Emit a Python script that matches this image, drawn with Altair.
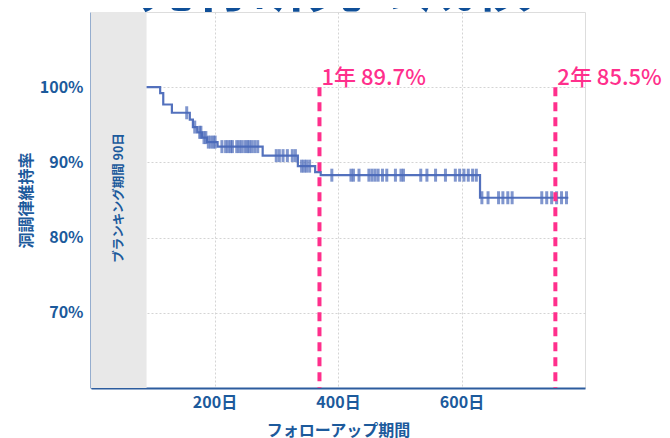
import altair as alt
import pandas as pd

# Kaplan-Meier steps (days, %)
km_days = [90, 112, 117, 131, 160, 165, 172, 180, 188, 205, 278, 335, 363, 372, 630, 773]
km_pct = [100, 99.2, 97.7, 96.6, 95.7, 94.7, 94.0, 93.3, 92.7, 92.1, 90.9, 89.5, 88.7, 88.3, 85.3, 85.3]

# censored observations (days, %)
cens_days = [155, 168, 176, 178, 183, 186, 190, 194, 198, 201,
             212, 218, 222, 226, 229, 236, 240, 244, 249, 253, 256, 260, 265, 270,
             300, 305, 311, 318, 326, 331,
             341, 345, 349, 354,
             390, 421, 425, 434, 450, 455, 460, 465, 472, 479, 493, 502, 506, 534, 544, 558, 574,
             590, 597, 604, 611, 618, 624,
             633, 643, 660, 667, 675, 682, 730, 738, 746, 754, 762, 770]
cens_pct = [96.6, 94.7, 94.0, 94.0, 93.3, 93.3, 92.7, 92.7, 92.7, 92.7] + [92.1] * 14 + [90.9] * 6 + [89.5] * 4 + [88.3] * 23 + [85.3] * 12

marker_days = [370, 752]
marker_labels = ["1年 89.7%", "2年 85.5%"]

blank_start, blank_end = [0], [90]
blank_label = "ブランキング期間 90日"

x_ticks = [200, 400, 600]
y_ticks = [70, 80, 90, 100]

title_text = "先行研究の成績"

FONT = "Noto Sans CJK JP"
BLUE = "#1c5a9c"
LINE = "#4a69b9"
PINK = "#ff2f8c"

km = pd.DataFrame({"day": km_days, "pct": km_pct})
cens = pd.DataFrame({"day": cens_days, "pct": cens_pct})
marks = pd.DataFrame({"day": marker_days, "label": marker_labels})
blank = pd.DataFrame({"s": blank_start, "e": blank_end, "label": [blank_label]})

xs = alt.Scale(domain=[0, 800], nice=False, zero=False)
ys = alt.Scale(domain=[60, 110], nice=False, zero=False)

xax = alt.Axis(values=x_ticks, labelExpr="datum.value + '日'", title="フォローアップ期間",
               grid=True, gridColor="#d4d4d4", gridDash=[2, 2], ticks=False,
               domainColor="#2c5c9e", domainWidth=2, labelColor=BLUE, labelFont=FONT,
               labelFontSize=16, labelFontWeight="bold", labelPadding=6,
               titleColor=BLUE, titleFont=FONT, titleFontSize=16, titleFontWeight="bold",
               titlePadding=12)
yax = alt.Axis(values=y_ticks, labelExpr="datum.value + '%'", title="洞調律維持率",
               grid=True, gridColor="#d4d4d4", gridDash=[2, 2], ticks=False,
               domainColor="#2c5c9e", domainWidth=2, labelColor=BLUE, labelFont=FONT,
               labelFontSize=16, labelFontWeight="bold", labelPadding=8,
               titleColor=BLUE, titleFont=FONT, titleFontSize=16, titleFontWeight="bold",
               titlePadding=5)

band = alt.Chart(blank).mark_rect(color="#e8e8e8").encode(
    x=alt.X("s:Q", scale=xs, axis=xax), x2="e:Q",
    y=alt.value(0), y2=alt.value(376))

band_text = alt.Chart(blank).mark_text(angle=270, font=FONT, fontSize=12.5, fontWeight="bold",
                                        color=BLUE).encode(
    x=alt.X("mid:Q", scale=xs), y=alt.value(186), text="label:N"
).transform_calculate(mid="(datum.s + datum.e) / 2")

line = alt.Chart(km).mark_line(interpolate="step-after", color=LINE, strokeWidth=2.2,
                               opacity=0.95).encode(
    x=alt.X("day:Q", scale=xs, axis=xax), y=alt.Y("pct:Q", scale=ys, axis=yax))

ticks = alt.Chart(cens).mark_tick(orient="vertical", size=13, thickness=3, color=LINE,
                                  opacity=0.7).encode(
    x=alt.X("day:Q", scale=xs), y=alt.Y("pct:Q", scale=ys))

rules = alt.Chart(marks).mark_rule(color=PINK, strokeWidth=4, strokeDash=[9, 6]).encode(
    x=alt.X("day:Q", scale=xs), y=alt.datum(100, scale=ys), y2=alt.datum(60))

rule_text = alt.Chart(marks).mark_text(align="left", baseline="alphabetic", dx=2,
                                       font=FONT, fontSize=22, fontWeight=500,
                                       color=PINK).encode(
    x=alt.X("day:Q", scale=xs), y=alt.value(73), text="label:N")

title = alt.Chart(pd.DataFrame({"t": [title_text]})).mark_text(
    align="center", baseline="alphabetic", font=FONT, fontSize=56, fontWeight="bold",
    color="#0f4f98").encode(x=alt.value(244), y=alt.value(-6), text="t:N")

chart = alt.layer(band, band_text, line, ticks, rules, rule_text, title).properties(
    width=494, height=376,
    padding={"left": 83, "top": 4, "right": 77, "bottom": 50},
    autosize=alt.AutoSizeParams(type="none"),
).configure_view(stroke=None).configure(background="white")

chart.save("out.html", embed_options={"renderer": "svg", "actions": False})
